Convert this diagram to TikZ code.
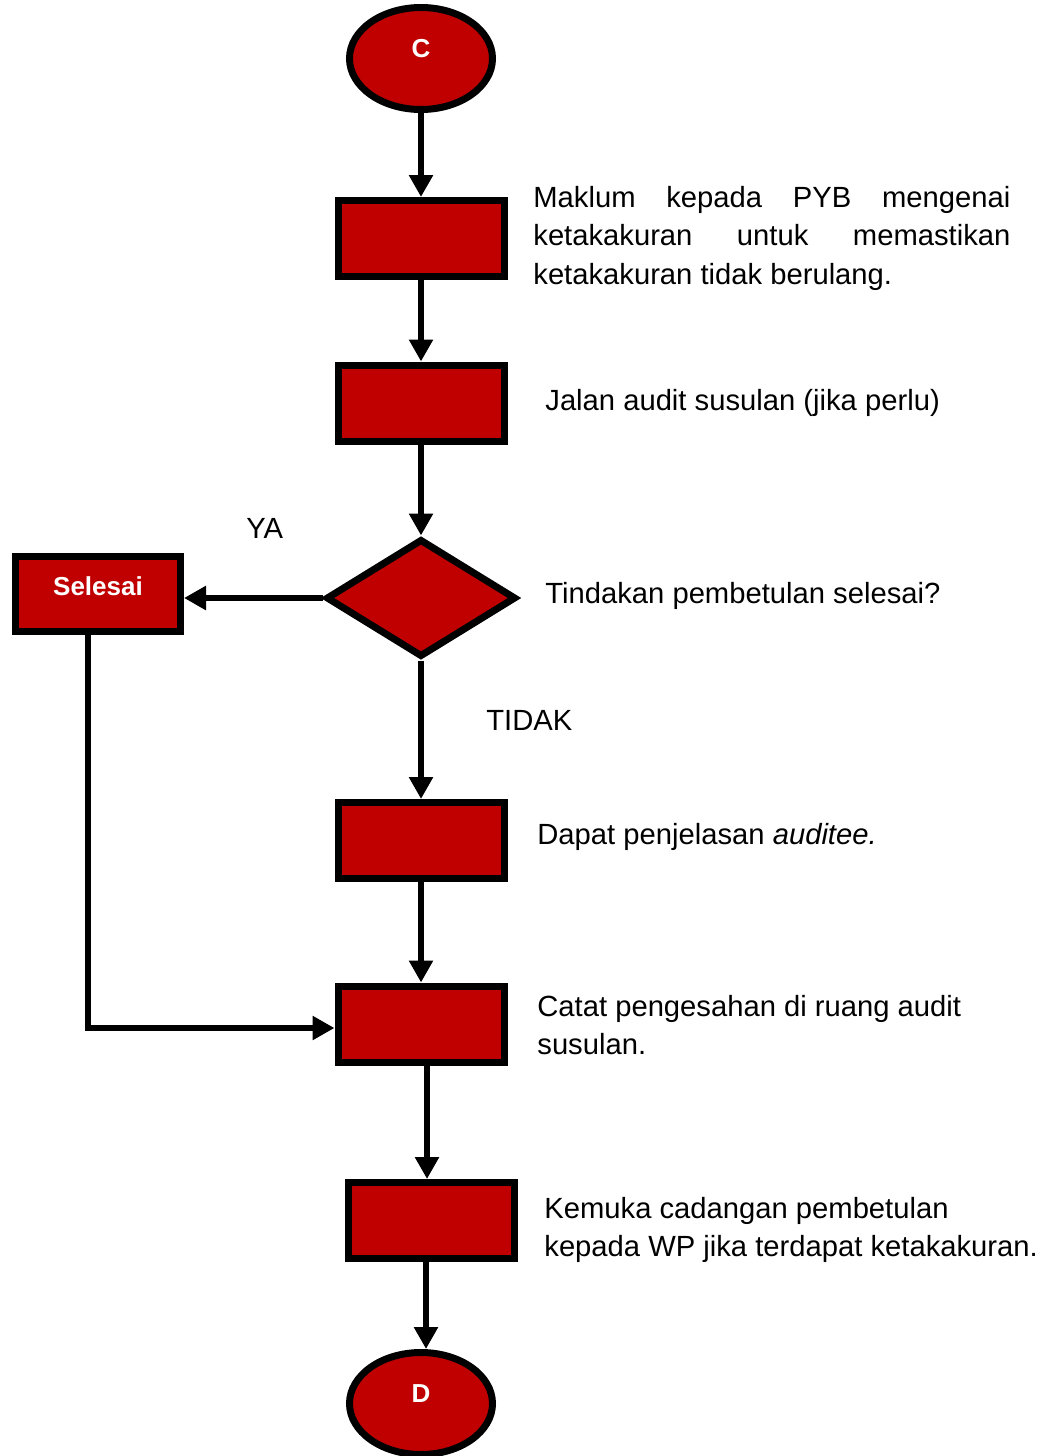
\documentclass[tikz,border=0pt]{standalone}
\usepackage{fontspec}
\setmainfont{Liberation Sans}
\usepackage{tikz}
\usetikzlibrary{positioning}
\usetikzlibrary{calc}
\usetikzlibrary{shapes.geometric}
\usetikzlibrary{arrows.meta}
\definecolor{boxred}{RGB}{192,0,0}

\begin{document}
\begin{tikzpicture}[x=0.5pt, y=-0.5pt,
    proc/.style={rectangle, draw=black, line width=3.5pt, fill=boxred,
      minimum width=83pt, minimum height=38pt, inner sep=0pt},
    term/.style={ellipse, draw=black, line width=3.5pt, fill=boxred,
      minimum width=71.5pt, minimum height=51pt, inner sep=0pt,
      text=white, font=\fontsize{13}{13}\selectfont\bfseries},
    decision/.style={diamond, draw=black, line width=3.5pt, fill=boxred,
      minimum width=95pt, minimum height=59pt, inner sep=0pt},
    flow/.style={line width=3.25pt, -{Triangle[length=11pt, width=11.5pt]}},
    note/.style={anchor=base west, inner sep=0pt, font=\fontsize{14.6}{19.4}\selectfont}]
    \useasboundingbox (0,0) rectangle (1048,1456);

    % boxes of the flow
    \node[term] (mulaC) at (421,58.5) {\raisebox{10pt}{C}};
    \node[proc] (maklum) at (421,238.5) {};
    \node[proc] (jalan) at (421,403) {};
    \node[decision] (tindakan) at (421,598) {};
    \node[proc, text=white, font=\fontsize{13}{13}\selectfont\bfseries,
      minimum width=82.5pt, minimum height=37.5pt] (selesai) at (98,594) {\raisebox{8pt}{Selesai}};
    \node[proc] (dapat) at (421,840.5) {};
    \node[proc] (catat) at (421,1024) {};
    \node[proc] (kemuka) at (431,1220.5) {};
    \node[term] (akhirD) at (421,1403.5) {\raisebox{10pt}{D}};

    % texts beside the boxes
    \node[note] (tmaklum) at (533,207) {\parbox[t]{238.5pt}{%
        \makebox[238.5pt][s]{Maklum kepada PYB mengenai}\\
        \makebox[238.5pt][s]{ketakakuran untuk memastikan}\\
        ketakakuran tidak berulang.}};
    \node[note] (tjalan) at (545,410) {Jalan audit susulan (jika perlu)};
    \node[note] (tya) at (246,538) {YA};
    \node[note] (ttindakan) at (545,603) {Tindakan pembetulan selesai?};
    \node[note] (ttidak) at (486,730) {TIDAK};
    \node[note] (tdapat) at (537,844) {Dapat penjelasan \textit{auditee.}};
    \node[note] (tcatat) at (537,1016) {\parbox[t]{260pt}{%
        Catat pengesahan di ruang audit\\susulan.}};
    \node[note] (tkemuka) at (544,1218) {\parbox[t]{260pt}{%
        Kemuka cadangan pembetulan\\kepada WP jika terdapat ketakakuran.}};

    % connectors
    \draw[flow] (mulaC.south) -- (maklum.north);
    \draw[flow] (maklum.south) -- (jalan.north);
    \draw[flow] (jalan.south) -- (tindakan.north);
    \draw[flow] (tindakan.west) -- (tindakan.west -| selesai.east);
    \draw[flow] (tindakan.south) -- (dapat.north);
    \draw[flow] (dapat.south) -- (catat.north);
    \draw[flow] ([xshift=-5pt]selesai.south) |- ([yshift=-2pt]catat.west);
    \draw[flow] ([xshift=3pt]catat.south) -- ([xshift=3pt]catat.south |- kemuka.north);
    \draw[flow] ([xshift=-2.5pt]kemuka.south) -- ([xshift=-2.5pt]kemuka.south |- akhirD.north);
\end{tikzpicture}
\end{document}
